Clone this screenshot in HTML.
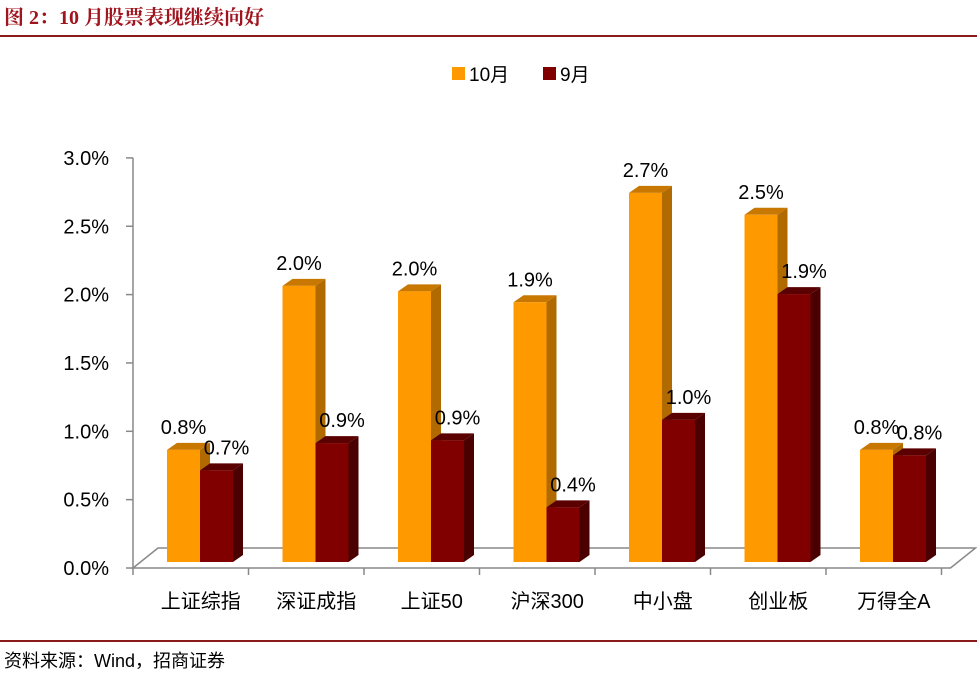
<!DOCTYPE html>
<html><head><meta charset="utf-8"><style>
body{margin:0;background:#fff;}
svg text{font-family:"Liberation Sans","Noto Sans CJK SC",sans-serif;}
</style></head><body>
<svg id="chart" width="977" height="675" viewBox="0 0 977 675" xmlns="http://www.w3.org/2000/svg">
<text x="4" y="24" font-size="20" font-weight="bold" fill="#A0141E" style="font-family:'Liberation Serif','Noto Serif CJK SC',serif">图 2：10 月股票表现继续向好</text>
<line x1="0" y1="36" x2="977" y2="36" stroke="#8B1A1A" stroke-width="2"/>
<line x1="0" y1="641" x2="977" y2="641" stroke="#8B1A1A" stroke-width="2"/>
<text x="4" y="667" font-size="18" fill="#000">资料来源：Wind，招商证券</text>
<g>
<rect x="452" y="67" width="13" height="13" fill="#FF9900"/>
<text x="469" y="81" font-size="19">10月</text>
<rect x="543" y="67" width="13" height="13" fill="#800000"/>
<text x="560" y="81" font-size="19">9月</text>
</g>
<g id="plot"></g>
</svg>
<script>
const categories=["上证综指","深证成指","上证50","沪深300","中小盘","创业板","万得全A"];
const octValues=[0.82,2.02,1.98,1.90,2.70,2.54,0.82];
const sepValues=[0.67,0.87,0.89,0.40,1.04,1.96,0.78];
const octLabels=["0.8%","2.0%","2.0%","1.9%","2.7%","2.5%","0.8%"];
const sepLabels=["0.7%","0.9%","0.9%","0.4%","1.0%","1.9%","0.8%"];
const yTicks=[0,0.5,1.0,1.5,2.0,2.5,3.0];
const yTickLabels=["0.0%","0.5%","1.0%","1.5%","2.0%","2.5%","3.0%"];

const NS="http://www.w3.org/2000/svg";
const g=document.getElementById('plot');
const axisX=133, axisY0=568, pxPer=136.7, barBase=562;
const catW=115.5, barW=33, dx=10, dy=-7;
function yAxis(v){return axisY0-v*pxPer;}
function yBar(v){return barBase-v*pxPer;}
function xCat(i){return axisX+catW*i;}
function mk(tag,attrs){const e=document.createElementNS(NS,tag);for(const k in attrs)e.setAttribute(k,attrs[k]);g.appendChild(e);return e;}

let floor=mk('polygon',{points:`${axisX},${axisY0} ${xCat(7)+9},${axisY0} ${xCat(7)+34},${axisY0-20} ${axisX+25},${axisY0-20}`,fill:'#fff',stroke:'#888','stroke-width':1.5});


let ya=mk('line',{x1:axisX,y1:yAxis(3),x2:axisX,y2:axisY0,stroke:'#888','stroke-width':1.5});


yTicks.forEach((v,i)=>{
  let t=mk('line',{x1:axisX-7,y1:yAxis(v),x2:axisX,y2:yAxis(v),stroke:'#888','stroke-width':1.5});
  
  
  let l=mk('text',{x:axisX-24,y:yAxis(v)+7,'font-size':20,'text-anchor':'end'});
  l.textContent=yTickLabels[i];
  
  
});
for(let i=0;i<=7;i++){
  let t=mk('line',{x1:xCat(i),y1:axisY0,x2:xCat(i),y2:axisY0+7,stroke:'#888','stroke-width':1.5});
  
  
}
function bar(x,v,front,top,side,name){
  const y=yBar(v), h=barBase-y;
  let s=mk('polygon',{points:`${x+barW},${y} ${x+barW+dx},${y+dy} ${x+barW+dx},${barBase+dy} ${x+barW},${barBase}`,fill:side});
  
  
  let t=mk('polygon',{points:`${x},${y} ${x+dx},${y+dy} ${x+barW+dx},${y+dy} ${x+barW},${y}`,fill:top});
  
  
  let f=mk('rect',{x:x,y:y,width:barW,height:h,fill:front});
  
  
}
categories.forEach((c,i)=>{
  const x0=xCat(i)+34;
  bar(x0,octValues[i],'#FF9900','#C87800','#B06A00','bar-oct-'+i);
  bar(x0+barW,sepValues[i],'#800000','#5A0000','#4A0000','bar-sep-'+i);
  let lo=mk('text',{x:x0+barW/2,y:yBar(octValues[i])-16,'font-size':20,'text-anchor':'middle'});
  lo.textContent=octLabels[i];
  
  
  let ls=mk('text',{x:x0+barW*1.5+10,y:yBar(sepValues[i])-16,'font-size':20,'text-anchor':'middle'});
  ls.textContent=sepLabels[i];
  
  
  let cl=mk('text',{x:xCat(i)+catW/2+10,y:608,'font-size':20,'text-anchor':'middle'});
  cl.textContent=c;
  
  
});
</script>
</body></html>
